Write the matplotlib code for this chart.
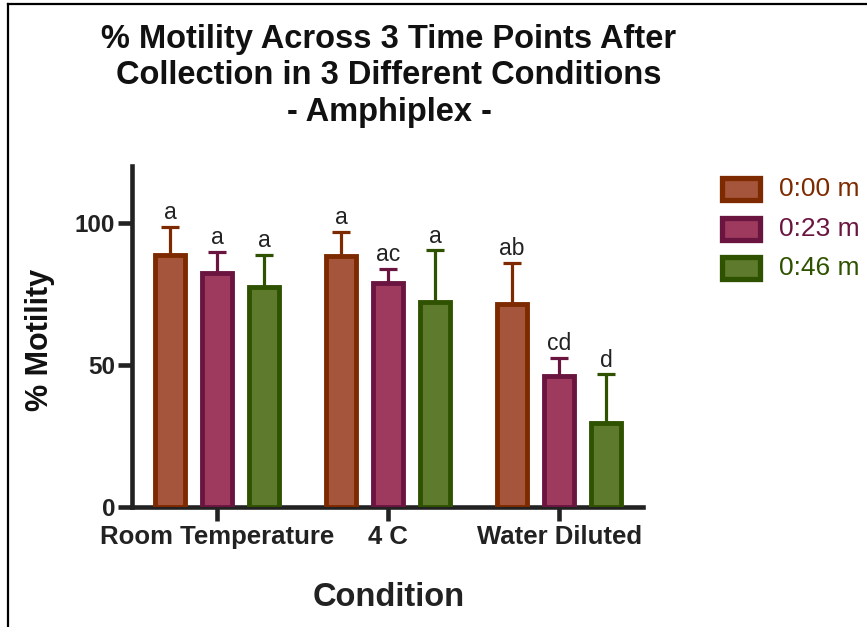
import matplotlib
matplotlib.use("Agg")
import matplotlib.pyplot as plt
from matplotlib.patches import Rectangle
from matplotlib.lines import Line2D
import numpy as np

plt.rcParams['font.family'] = ['Liberation Sans', 'DejaVu Sans']

conditions = ["Room Temperature", "4 C", "Water Diluted"]
series = ["0:00 m", "0:23 m", "0:46 m"]
means = {
    "0:00 m": [88.8, 88.5, 71.5],
    "0:23 m": [82.2, 79.0, 46.0],
    "0:46 m": [77.4, 72.0, 29.4],
}
errors = {
    "0:00 m": [9.8, 8.3, 14.4],
    "0:23 m": [7.5, 4.9, 6.6],
    "0:46 m": [11.3, 18.3, 17.3],
}
letters = {
    "0:00 m": ["a", "a", "ab"],
    "0:23 m": ["a", "ac", "cd"],
    "0:46 m": ["a", "a", "d"],
}
face_colors = ["#A5553B", "#9F3A5F", "#5E7A2C"]
edge_colors = ["#7E2A00", "#6A1540", "#2F5200"]

W, H = 867, 627
fig = plt.figure(figsize=(W / 100, H / 100), dpi=100)
ax = fig.add_axes([132 / W, 1 - 507 / H, (643 - 132) / W, (507 - 166) / H])

x = np.arange(len(conditions))
pitch = 0.275
bw = 0.178
for i, s in enumerate(series):
    xs = x + (i - 1) * pitch
    ax.bar(xs, means[s], width=bw, color=face_colors[i], edgecolor=edge_colors[i],
           linewidth=3.5, zorder=3)
    ax.errorbar(xs, means[s], yerr=[np.zeros(len(xs)), errors[s]], fmt='none',
                ecolor=edge_colors[i], elinewidth=2.3, capsize=6.5, capthick=2.3, zorder=2)
    for xi, m, e, lab in zip(xs, means[s], errors[s], letters[s]):
        ax.annotate(lab, (xi, m + e), xytext=(0, 5.5), textcoords='offset points',
                    ha='center', va='baseline', fontsize=16.5, color='#222222')

ax.set_xlim(-0.497, 2.49)
ax.set_ylim(0, 120)
ax.set_yticks([0, 50, 100])
ax.set_xticks(x)
ax.set_xticklabels(conditions)
for sp in ['top', 'right']:
    ax.spines[sp].set_visible(False)
for sp in ['left', 'bottom']:
    ax.spines[sp].set_linewidth(3.3)
    ax.spines[sp].set_color('#222222')
ax.tick_params(axis='both', direction='out', length=10, width=3.3, color='#222222')
ax.tick_params(axis='y', pad=2, labelsize=17.5)
ax.tick_params(axis='x', pad=3, labelsize=18.5)
for t in ax.get_xticklabels() + ax.get_yticklabels():
    t.set_fontweight('bold')
    t.set_color('#222222')

fig.text(40 / W, 1 - 340 / H, "% Motility", rotation=90, ha='center', va='center',
         fontsize=22, fontweight='bold', color='#111111')
fig.text(389 / W, 1 - 598 / H, "Condition", ha='center', va='center',
         fontsize=23.5, fontweight='bold', color='#222222')
fig.text(389 / W, 1 - 24 / H,
         "% Motility Across 3 Time Points After\nCollection in 3 Different Conditions\n- Amphiplex -",
         ha='center', va='top', fontsize=23.5, fontweight='bold', linespacing=1.22, color='#111111')

# legend
ys = [189, 229, 268]
for i, s in enumerate(series):
    fig.add_artist(Rectangle((722 / W, 1 - (ys[i] + 11) / H), 38 / W, 22 / H,
                             facecolor=face_colors[i], edgecolor=edge_colors[i],
                             linewidth=3.8, transform=fig.transFigure))
    fig.text(779 / W, 1 - ys[i] / H, s, ha='left', va='center', fontsize=19,
             color=edge_colors[i])

# frame
fig.add_artist(Line2D([8 / W, 8 / W], [0, 1 - 4 / H], color='black', linewidth=1.6,
                      transform=fig.transFigure))
fig.add_artist(Line2D([8 / W, 1], [1 - 4 / H, 1 - 4 / H], color='black', linewidth=1.6,
                      transform=fig.transFigure))

fig.savefig("out.png", dpi=100)
